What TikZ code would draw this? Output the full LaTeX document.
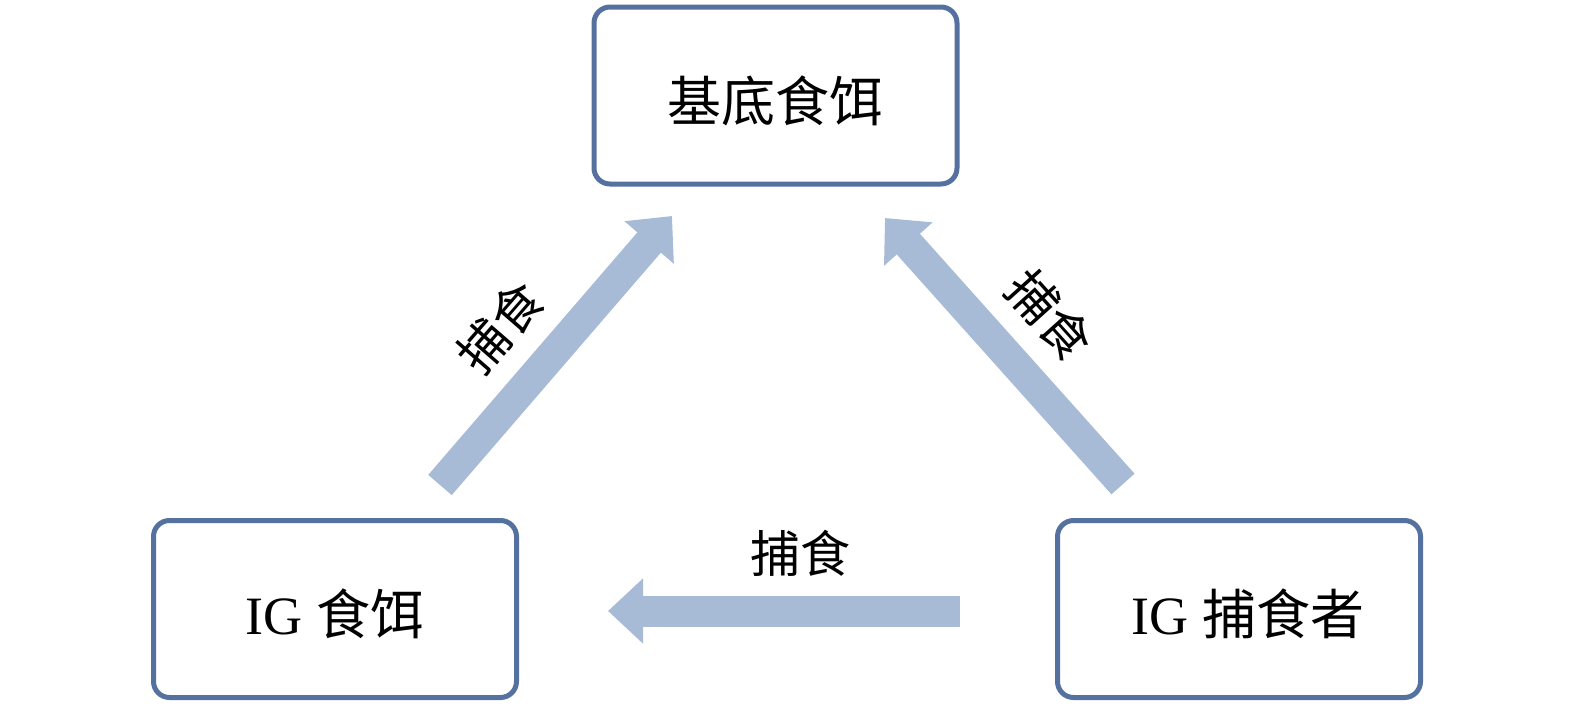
\documentclass[tikz,border=0pt]{standalone}
\usepackage{fontspec}
\setmainfont{Liberation Serif}
\newfontfamily\cjk{Noto Sans CJK SC}
\usetikzlibrary{arrows.meta}
\definecolor{boxblue}{RGB}{84,113,160}
\definecolor{arrowblue}{RGB}{167,186,214}
\newcommand{\lowertext}[1]{\raisebox{-5pt}[\height][\depth]{#1}}
\tikzset{
  box/.style={draw=boxblue, line width=5pt, rounded corners=16pt, fill=white,
    minimum width=363pt, minimum height=177pt, inner sep=0pt,
    font=\fontsize{54}{60}\selectfont},
  fatarrow/.style={draw=arrowblue, line width=31pt,
    -{Triangle[length=35pt,width=63pt]}},
  lab/.style={font=\cjk\fontsize{50}{56}\selectfont, inner sep=0pt}
}
\begin{document}
\begin{tikzpicture}[x=1pt,y=-1pt]
\useasboundingbox (0,0) rectangle (1575,707);
\node[box] (base) at (775.5,95.5) {\lowertext{\cjk 基底食饵}};
\node[box] (prey) at (335,609) {\lowertext{IG\ {\cjk 食饵}}};
\node[box] (pred) at (1239,609) {\hspace*{18pt}\lowertext{IG\ {\cjk 捕食者}}};
\coordinate (a1s) at (440,485);
\coordinate (a1e) at (672,216);
\coordinate (a2s) at (1123,484);
\coordinate (a2e) at (885,218);
\coordinate (a3s) at (960,611);
\coordinate (a3e) at (608,611);
\draw[fatarrow] (a1s) -- (a1e);
\draw[fatarrow] (a2s) -- (a2e);
\draw[fatarrow] (a3s) -- (a3e);
\node[lab, rotate=49] (l1) at (500,327) {捕食};
\node[lab, rotate=-48] (l2) at (1050,315) {捕食};
\node[lab] (l3) at (800,553) {捕食};
\end{tikzpicture}
\end{document}
